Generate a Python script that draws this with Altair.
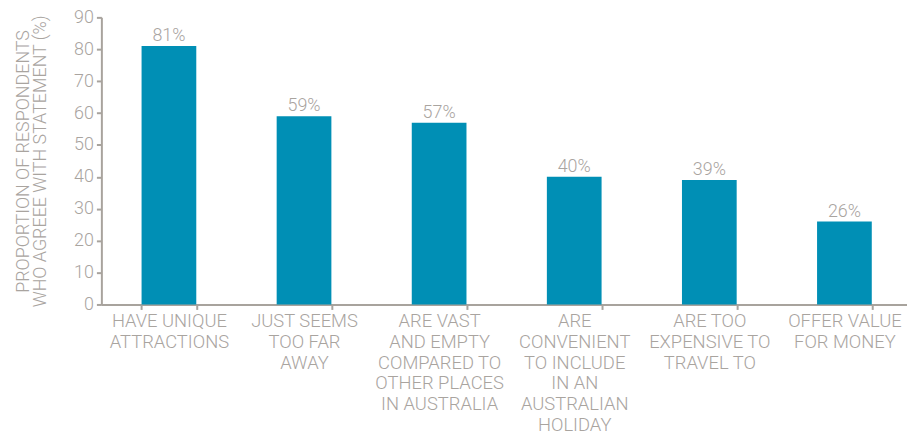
import altair as alt
import pandas as pd

categories = [
    "HAVE UNIQUE\nATTRACTIONS",
    "JUST SEEMS\nTOO FAR\nAWAY",
    "ARE VAST\nAND EMPTY\nCOMPARED TO\nOTHER PLACES\nIN AUSTRALIA",
    "ARE\nCONVENIENT\nTO INCLUDE\nIN AN\nAUSTRALIAN\nHOLIDAY",
    "ARE TOO\nEXPENSIVE TO\nTRAVEL TO",
    "OFFER VALUE\nFOR MONEY",
]
values = [81, 59, 57, 40, 39, 26]
labels = ["81%", "59%", "57%", "40%", "39%", "26%"]

df = pd.DataFrame({"cat": categories, "val": values, "lab": labels})

GREY = "#a9a49f"
AXIS = "#a8a39d"
BAR = "#008fb5"
FONT = "Roboto"

x = alt.X(
    "cat:N",
    sort=categories,
    scale=alt.Scale(paddingInner=0.595, paddingOuter=0.2975, range=[0, 816]),
    axis=alt.Axis(
        title=None,
        labelAngle=0,
        labelExpr="split(datum.label, '\\n')",
        labelLineHeight=21,
        labelFontSize=18.5,
        labelFont=FONT,
        labelFontWeight=300,
        labelColor=GREY,
        labelPadding=2,
        labelBaseline="top",
        labelOverlap=False,
        tickBand="extent",
        tickSize=5,
        tickColor=AXIS,
        domainColor=AXIS,
        domainWidth=2,
        tickWidth=2,
    ),
)

y = alt.Y(
    "val:Q",
    scale=alt.Scale(domain=[0, 90]),
    axis=alt.Axis(
        values=list(range(0, 91, 10)),
        title=["PROPORTION  OF RESPONDENTS", "WHO AGREEE WITH STATEMENT (%)"],
        titleFont=FONT,
        titleFontWeight=300,
        titleFontSize=18,
        titleColor=GREY,
        titleLineHeight=17,
        titlePadding=24,
        labelFont=FONT,
        labelFontWeight=300,
        labelFontSize=18,
        labelColor=GREY,
        labelPadding=3,
        labelOverlap=False,
        tickSize=5,
        tickColor=AXIS,
        domainColor=AXIS,
        domainWidth=2,
        tickWidth=2,
        grid=False,
    ),
)

bars = alt.Chart(df).mark_bar(color=BAR).encode(x=x, y=y)
text = alt.Chart(df).mark_text(
    dy=-10, font=FONT, fontWeight=300, fontSize=18, color=GREY
).encode(x=x, y=y, text="lab:N")

chart = (
    alt.layer(bars, text)
    .properties(
        width=811,
        height=289,
        autosize=alt.AutoSizeParams(type="none"),
        padding={"left": 94, "top": 8, "right": 0, "bottom": 131},
    )
    .configure_view(stroke=None)
)

chart.save("out.html", embed_options={"renderer": "svg", "actions": False})
